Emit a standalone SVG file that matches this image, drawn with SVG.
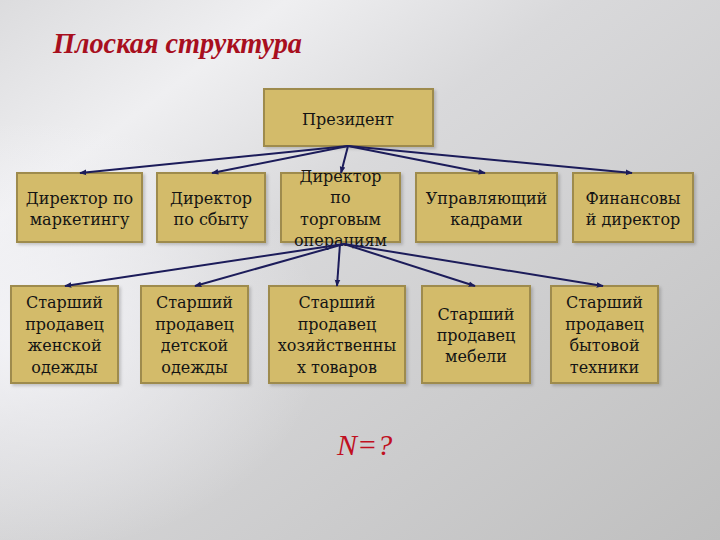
<svg xmlns="http://www.w3.org/2000/svg" width="720" height="540" viewBox="0 0 720 540">
<defs>
<linearGradient id="bg" x1="0" y1="0" x2="1" y2="1">
<stop offset="0" stop-color="#dcdcde"/>
<stop offset="0.2" stop-color="#efeff1"/>
<stop offset="0.4" stop-color="#d9d9db"/>
<stop offset="1" stop-color="#bfbfbf"/>
</linearGradient>
<radialGradient id="glow" cx="0.05" cy="0.62" r="0.4">
<stop offset="0" stop-color="#f6f6fa" stop-opacity="0.85"/>
<stop offset="1" stop-color="#f6f6fa" stop-opacity="0"/>
</radialGradient>
<marker id="arr" viewBox="0 0 10 10" refX="9" refY="5" markerWidth="7" markerHeight="7" markerUnits="userSpaceOnUse" orient="auto">
<path d="M0,1 L10,5 L0,9 Z" fill="#1c1c5a"/>
</marker>
<filter id="sh" x="-10%" y="-10%" width="130%" height="130%">
<feDropShadow dx="2" dy="2" stdDeviation="1.5" flood-color="#000" flood-opacity="0.18"/>
</filter>
</defs>
<style>
.box{fill:#d3bb6a;stroke:#9e8b4e;stroke-width:2;filter:url(#sh)}
.t{font-family:"DejaVu Serif","Liberation Serif",serif;font-size:16px;fill:#141414;text-anchor:middle}
.c{fill:none;stroke:#1c1c5a;stroke-width:2;marker-end:url(#arr)}
</style>
<rect width="720" height="540" fill="url(#bg)"/>
<rect width="720" height="540" fill="url(#glow)"/>

<text x="53" y="53" font-family="Liberation Serif,serif" font-size="30" font-weight="bold" font-style="italic" fill="#a80f1e" textLength="249" lengthAdjust="spacingAndGlyphs">Плоская структура</text>

<g id="president">
<rect class="box" x="264" y="89" width="169" height="57"/>
<text class="t" x="348" y="125">Президент</text>
</g>

<g id="dir-marketing">
<rect class="box" x="17" y="173" width="125" height="69"/>
<text class="t" x="79.5" y="204">Директор по</text>
<text class="t" x="79.5" y="225">маркетингу</text>
</g>
<g id="dir-sales">
<rect class="box" x="157" y="173" width="108" height="69"/>
<text class="t" x="211" y="204">Директор</text>
<text class="t" x="211" y="225">по сбыту</text>
</g>
<g id="dir-trade">
<rect class="box" x="281" y="173" width="119" height="69"/>
<text class="t" x="340.5" y="182">Директор</text>
<text class="t" x="340.5" y="203">по</text>
<text class="t" x="340.5" y="225">торговым</text>
<text class="t" x="340.5" y="246">операциям</text>
</g>
<g id="hr">
<rect class="box" x="416" y="173" width="141" height="69"/>
<text class="t" x="486.5" y="204">Управляющий</text>
<text class="t" x="486.5" y="225">кадрами</text>
</g>
<g id="fin">
<rect class="box" x="573" y="173" width="120" height="69"/>
<text class="t" x="633" y="204">Финансовы</text>
<text class="t" x="633" y="225">й директор</text>
</g>

<g id="women">
<rect class="box" x="11" y="286" width="107" height="97"/>
<text class="t" x="64.5" y="308">Старший</text>
<text class="t" x="64.5" y="330">продавец</text>
<text class="t" x="64.5" y="351">женской</text>
<text class="t" x="64.5" y="373">одежды</text>
</g>
<g id="kids">
<rect class="box" x="141" y="286" width="107" height="97"/>
<text class="t" x="194.5" y="308">Старший</text>
<text class="t" x="194.5" y="330">продавец</text>
<text class="t" x="194.5" y="351">детской</text>
<text class="t" x="194.5" y="373">одежды</text>
</g>
<g id="household">
<rect class="box" x="269" y="286" width="136" height="97"/>
<text class="t" x="337" y="308">Старший</text>
<text class="t" x="337" y="330">продавец</text>
<text class="t" x="337" y="351">хозяйственны</text>
<text class="t" x="337" y="373">х товаров</text>
</g>
<g id="furniture">
<rect class="box" x="422" y="286" width="108" height="97"/>
<text class="t" x="476" y="320">Старший</text>
<text class="t" x="476" y="341">продавец</text>
<text class="t" x="476" y="362">мебели</text>
</g>
<g id="appliances">
<rect class="box" x="551" y="286" width="107" height="97"/>
<text class="t" x="604.5" y="308">Старший</text>
<text class="t" x="604.5" y="330">продавец</text>
<text class="t" x="604.5" y="351">бытовой</text>
<text class="t" x="604.5" y="373">техники</text>
</g>

<g id="connectors">
<line class="c" x1="348" y1="146" x2="80" y2="173"/>
<line class="c" x1="348" y1="146" x2="212" y2="173"/>
<line class="c" x1="348" y1="146" x2="341" y2="173"/>
<line class="c" x1="348" y1="146" x2="485" y2="173"/>
<line class="c" x1="348" y1="146" x2="632" y2="173"/>
<line class="c" x1="344" y1="244" x2="65" y2="286"/>
<line class="c" x1="344" y1="244" x2="195" y2="286"/>
<line class="c" x1="340" y1="244" x2="337" y2="286"/>
<line class="c" x1="344" y1="244" x2="475" y2="286"/>
<line class="c" x1="344" y1="244" x2="603" y2="286"/>
</g>

<text x="337" y="455" font-family="Liberation Serif,serif" font-size="30" font-style="italic" fill="#c0101f">N=?</text>
</svg>
